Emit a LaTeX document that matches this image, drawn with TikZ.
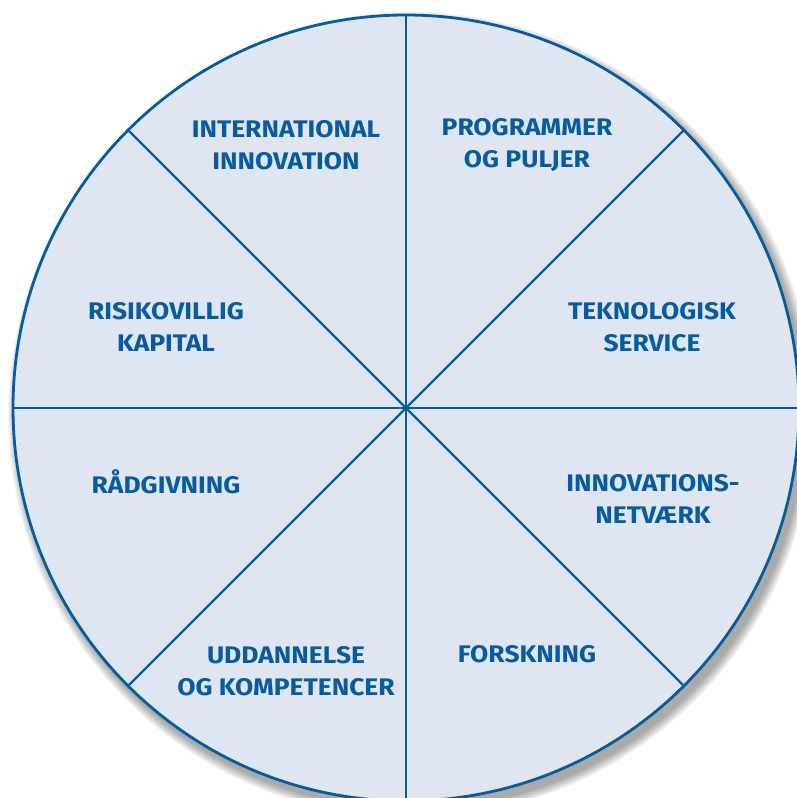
\documentclass[tikz,border=0pt]{standalone}
\usepackage{fontspec}
\setmainfont{Fira Sans}[BoldFeatures={FakeStretch=1.1}]
\usetikzlibrary{calc}
\begin{document}
\begin{tikzpicture}[x=1pt,y=-1pt]
\definecolor{rimblue}{HTML}{065C9E}
\definecolor{fillblue}{HTML}{DFE5F1}
\tikzset{
  label/.style={text=rimblue, font=\fontsize{24}{31.5}\selectfont\bfseries, align=center, inner sep=0pt},
  spoke/.style={draw=rimblue, line width=2.3pt}
}
\useasboundingbox (0,0) rectangle (797,798);
\clip (0,0) rectangle (797,798);
\coordinate (c) at (406,408);
% soft shadow
\foreach \i in {0,...,9}{
  \fill[black, opacity=0.04] ($(c)+(5,7)$) circle ({393+10-\i});
}
\fill[fillblue] (c) circle (393);
\foreach \a in {0,45,...,315}{
  \draw[spoke] (c) -- ++(\a:393);
}
\draw[rimblue, line width=2.8pt] (c) circle (393);
\node[label] (ii) at (286,145) {INTERNATIONAL\\INNOVATION};
\node[label] (pp) at (527,145) {PROGRAMMER\\OG PULJER};
\node[label] (rk) at (166,327) {RISIKOVILLIG\\KAPITAL};
\node[label] (ts) at (652,327) {TEKNOLOGISK\\SERVICE};
\node[label] (rd) at (166,482) {RÅDGIVNING};
\node[label] (in) at (653,499) {INNOVATIONS-\\NETVÆRK};
\node[label] (uk) at (286,671) {UDDANNELSE\\OG KOMPETENCER};
\node[label] (fo) at (527,654) {FORSKNING};
\end{tikzpicture}
\end{document}
